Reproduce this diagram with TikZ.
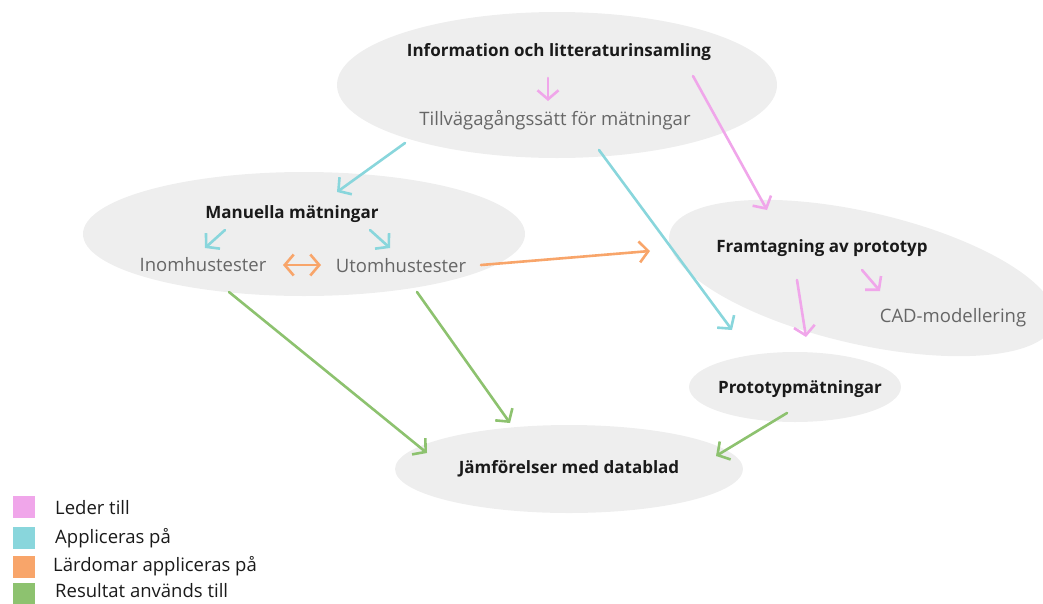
\documentclass[tikz,border=0pt]{standalone}
\usepackage{fontspec}
\setmainfont{Open Sans}
\usetikzlibrary{shapes.geometric,arrows.meta}
\definecolor{cpink}{HTML}{F0A6EA}
\definecolor{ccyan}{HTML}{89D6DC}
\definecolor{corange}{HTML}{F8A56A}
\definecolor{cgreen}{HTML}{8DC26F}
\definecolor{cbg}{HTML}{EEEEEE}
\definecolor{cgray}{HTML}{666666}
\definecolor{cdark}{HTML}{1A1A1A}
\tikzset{
  >={Straight Barb[length=9pt,width=21pt,line width=2.6pt]},
  blob/.style={ellipse, fill=cbg, draw=none, inner sep=0pt},
  title/.style={font=\fontsize{17}{20}\selectfont\bfseries, text=cdark, inner sep=0pt},
  sub/.style={font=\fontsize{18.5}{22}\selectfont, text=cgray, inner sep=0pt},
  legtext/.style={font=\fontsize{18.5}{22}\selectfont, text=cdark, anchor=west, inner sep=0pt},
  con/.style={line width=2.6pt, line cap=round, ->},
  lead/.style={con, draw=cpink},
  appl/.style={con, draw=ccyan},
  lard/.style={con, draw=corange},
  res/.style={con, draw=cgreen},
  legbox/.style={minimum width=22pt, minimum height=22pt, inner sep=0pt, draw=none}
}
\begin{document}
\begin{tikzpicture}[x=1pt,y=-1pt]
\useasboundingbox (0,0) rectangle (1043,603);
% background ellipses
\node[blob, minimum width=440, minimum height=146] (einfo) at (557,85) {};
\node[blob, minimum width=442, minimum height=124] (eman) at (304,234) {};
\node[blob, minimum width=395, minimum height=132, rotate=-13] (efram) at (862,278) {};
\node[blob, minimum width=212, minimum height=70] (eproto) at (795,387) {};
\node[blob, minimum width=348, minimum height=88] (ejam) at (569,469) {};
% texts
\node[title] (info) at (559,52) {Information och litteraturinsamling};
\node[sub] (till) at (555,120) {Tillvägagångssätt för mätningar};
\node[title] (man) at (292,214) {Manuella mätningar};
\node[sub] (inom) at (203,265) {Inomhustester};
\node[sub] (utom) at (401,266) {Utomhustester};
\node[title] (fram) at (822,248) {Framtagning av prototyp};
\node[sub] (cad) at (953,318) {CAD-modellering};
\node[title] (proto) at (800,389) {Prototypmätningar};
\node[title] (jam) at (569,469) {Jämförelser med datablad};
% connector end points
\coordinate (p1a) at (548,78);  \coordinate (p1b) at (548,101);
\coordinate (p2a) at (693,76);  \coordinate (p2b) at (767,210);
\coordinate (p3a) at (862,270); \coordinate (p3b) at (880,291);
\coordinate (p4a) at (797,280); \coordinate (p4b) at (806,337);
\coordinate (c1a) at (405,143); \coordinate (c1b) at (337,192);
\coordinate (c2a) at (599,150); \coordinate (c2b) at (732,330);
\coordinate (c3a) at (225,230); \coordinate (c3b) at (205,248);
\coordinate (c4a) at (370,230); \coordinate (c4b) at (390,248);
\coordinate (o1a) at (283,265); \coordinate (o1b) at (321,265);
\coordinate (o2a) at (481,265); \coordinate (o2b) at (650,251);
\coordinate (g1a) at (229,292); \coordinate (g1b) at (427,453);
\coordinate (g2a) at (417,292); \coordinate (g2b) at (510,423);
\coordinate (g3a) at (787,413); \coordinate (g3b) at (716,456);
% connectors
\draw[lead] (p1a) -- (p1b);
\draw[lead] (p2a) -- (p2b);
\draw[lead] (p3a) -- (p3b);
\draw[lead] (p4a) -- (p4b);
\draw[appl] (c1a) -- (c1b);
\draw[appl] (c2a) -- (c2b);
\draw[appl] (c3a) -- (c3b);
\draw[appl] (c4a) -- (c4b);
\draw[lard, <->] (o1a) -- (o1b);
\draw[lard] (o2a) -- (o2b);
\draw[res] (g1a) -- (g1b);
\draw[res] (g2a) -- (g2b);
\draw[res] (g3a) -- (g3b);
% legend
\node[legbox, fill=cpink] (l1) at (24,507) {};
\node[legbox, fill=ccyan] (l2) at (24,538) {};
\node[legbox, fill=corange] (l3) at (24,567) {};
\node[legbox, fill=cgreen] (l4) at (24,594) {};
\node[legtext] (t1) at (55,508) {Leder till};
\node[legtext] (t2) at (55,538) {Appliceras på};
\node[legtext] (t3) at (53,566) {Lärdomar appliceras på};
\node[legtext] (t4) at (55,591) {Resultat används till};
\end{tikzpicture}
\end{document}
